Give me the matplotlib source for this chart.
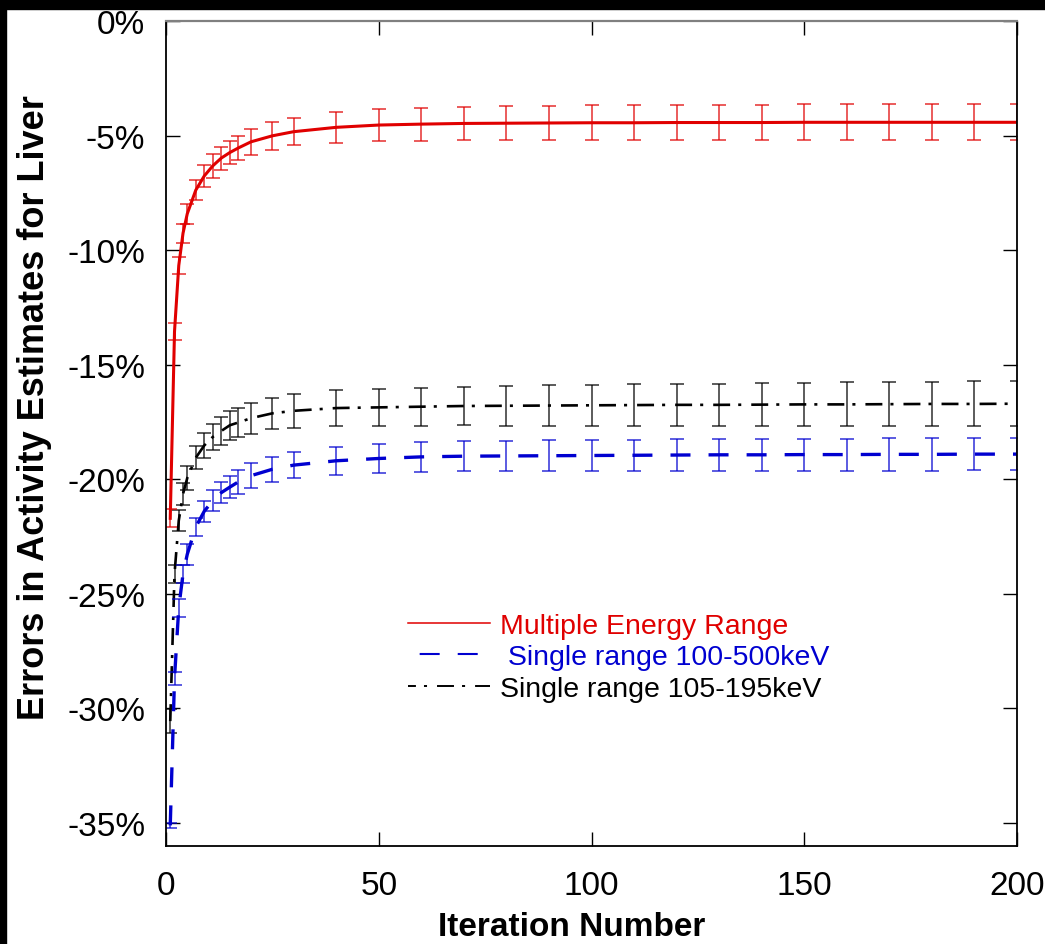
import matplotlib
matplotlib.use("Agg")
import matplotlib.pyplot as plt
from matplotlib.lines import Line2D
from matplotlib.patches import Rectangle
from matplotlib.ticker import FuncFormatter, FixedLocator

plt.rcParams['font.family'] = ['Liberation Sans', 'DejaVu Sans']
plt.rcParams['lines.scale_dashes'] = False

# Iterations at which the liver activity error was evaluated
iterations = [1, 2, 3, 4, 5, 7, 9, 11, 13, 15, 17, 20, 25, 30,
              40, 50, 60, 70, 80, 90, 100, 110, 120, 130, 140, 150,
              160, 170, 180, 190, 200]

# Multiple energy range reconstruction (% error, mean and half-width)
multi_mean = [-21.7, -13.55, -10.67, -9.26, -8.41, -7.38, -6.76, -6.32, -5.98,
              -5.74, -5.54, -5.27, -5.01, -4.83, -4.64, -4.54, -4.50, -4.47,
              -4.46, -4.45, -4.44, -4.44, -4.43, -4.43, -4.43, -4.42, -4.42,
              -4.42, -4.42, -4.42, -4.42]
multi_err = [0.40, 0.36, 0.36, 0.41, 0.44, 0.45, 0.49, 0.52, 0.50, 0.52, 0.54,
             0.57, 0.60, 0.60, 0.68, 0.68, 0.72, 0.73, 0.74, 0.75, 0.76, 0.76,
             0.77, 0.77, 0.77, 0.78, 0.78, 0.78, 0.78, 0.78, 0.78]

# Single energy window 100-500 keV
wide_mean = [-35.1, -28.68, -25.6, -24.13, -23.27, -22.08, -21.39, -20.93,
             -20.58, -20.34, -20.11, -19.84, -19.56, -19.38, -19.19, -19.09,
             -19.02, -18.99, -18.98, -18.97, -18.96, -18.95, -18.94, -18.93,
             -18.93, -18.92, -18.92, -18.91, -18.91, -18.90, -18.90]
wide_err = [0.10, 0.29, 0.40, 0.38, 0.47, 0.40, 0.46, 0.46, 0.47, 0.49, 0.51,
            0.54, 0.54, 0.58, 0.60, 0.62, 0.65, 0.66, 0.67, 0.67, 0.68, 0.68,
            0.69, 0.69, 0.70, 0.70, 0.70, 0.71, 0.71, 0.71, 0.71]

# Single energy window 105-195 keV
narrow_mean = [-30.55, -24.13, -21.8, -20.64, -19.94, -19.06, -18.52, -18.15,
               -17.89, -17.64, -17.52, -17.33, -17.12, -17.01, -16.89, -16.86,
               -16.83, -16.80, -16.79, -16.78, -16.77, -16.76, -16.75, -16.75,
               -16.74, -16.73, -16.73, -16.72, -16.71, -16.71, -16.70]
narrow_err = [0.53, 0.38, 0.45, 0.46, 0.51, 0.51, 0.54, 0.58, 0.59, 0.63, 0.63,
              0.68, 0.69, 0.73, 0.78, 0.81, 0.83, 0.85, 0.87, 0.88, 0.90, 0.91,
              0.92, 0.93, 0.94, 0.95, 0.96, 0.96, 0.97, 0.98, 0.98]

labels = ["Multiple Energy Range", " Single range 100-500keV",
          "Single range 105-195keV"]
x_ticks = [0, 50, 100, 150, 200]
y_ticks = [0, -5, -10, -15, -20, -25, -30, -35]

RED = '#e00000'
BLUE = '#0000d0'
BLACK = '#000000'

fig = plt.figure(figsize=(10.45, 9.45), dpi=100)
ax = fig.add_axes([166 / 1045, 1 - 847 / 945, (1017 - 166) / 1045, (847 - 22) / 945])

# dark band along the top and left edges
fig.patches.append(Rectangle((0, 1 - 10 / 945), 1, 10 / 945, transform=fig.transFigure,
                             color='black', zorder=-1))
fig.patches.append(Rectangle((0, 0), 6 / 1045, 1, transform=fig.transFigure,
                             color='black', zorder=-1))

blue_ls = (0, (14.4, 13.0))
black_ls = (0, (12.2, 5.8, 2.2, 7.2))

series = [
    (narrow_mean, narrow_err, BLACK, black_ls, 1.9),
    (wide_mean, wide_err, BLUE, blue_ls, 2.4),
    (multi_mean, multi_err, RED, '-', 2.2),
]
for mean, err, col, ls, lw in series:
    ax.errorbar(iterations, mean, yerr=err, fmt='none', ecolor=col,
                elinewidth=1.2, capsize=4.8, capthick=1.2, alpha=0.75)
    ax.plot(iterations, mean, color=col, linestyle=ls, linewidth=lw)

ax.set_xlim(0, 200)
ax.set_ylim(-36, 0)
ax.xaxis.set_major_locator(FixedLocator(x_ticks))
ax.yaxis.set_major_locator(FixedLocator(y_ticks))
ax.yaxis.set_major_formatter(FuncFormatter(lambda v, p: f"{v:.0f}%".replace('\u2212', '-')))
ax.tick_params(axis='both', direction='in', length=10, width=1.0, color='black',
               labelsize=24, top=True, right=True)
ax.tick_params(axis='y', pad=15)
ax.tick_params(axis='x', pad=17)

for side in ['left', 'bottom', 'right']:
    ax.spines[side].set_color('black')
    ax.spines[side].set_linewidth(1.3)
ax.spines['top'].set_color('#808080')
ax.spines['top'].set_linewidth(1.6)

ax.set_xlabel("Iteration Number", fontsize=24, fontweight='bold')
ax.xaxis.set_label_coords((572 - 166) / 851, -(928 - 847) / 825)
ax.xaxis.label.set_va('center')
ax.set_ylabel("Errors in Activity Estimates for Liver", fontsize=26, fontweight='bold')
ax.yaxis.set_label_coords(-(166 - 35) / 851, (847 - 408) / 825)
ax.yaxis.label.set_va('center')

handles = [
    Line2D([], [], color=RED, linewidth=1.1, linestyle='-'),
    Line2D([], [], color=BLUE, linewidth=1.5, linestyle=(19.0, (14.4, 13.0))),
    Line2D([], [], color=BLACK, linewidth=1.4, linestyle=(6.5, (12.2, 5.8, 2.2, 7.2))),
]
leg = ax.legend(handles, labels, loc='upper left', bbox_to_anchor=(0.284, 0.283),
                frameon=False, fontsize=20.5, handlelength=2.9, handletextpad=0.35,
                labelspacing=0.2, borderpad=0, borderaxespad=0)
for txt, col in zip(leg.get_texts(), [RED, BLUE, BLACK]):
    txt.set_color(col)

fig.savefig("out.png", dpi=100)
